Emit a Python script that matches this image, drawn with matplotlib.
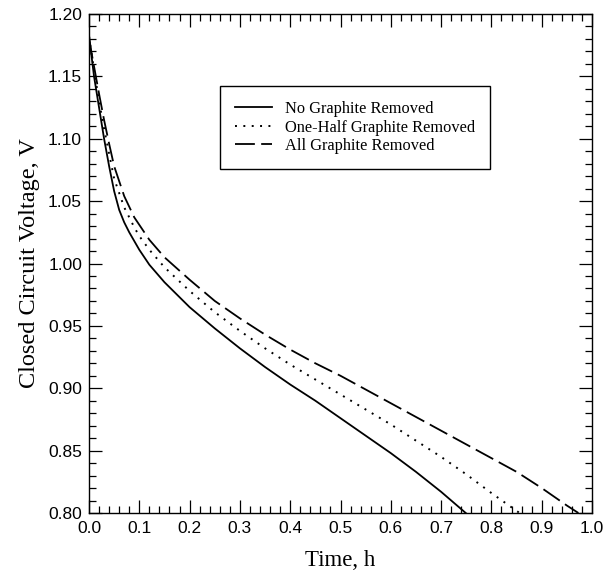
import matplotlib.pyplot as plt
from matplotlib.ticker import MultipleLocator

t_none = [0.0, 0.01, 0.02, 0.03, 0.04, 0.05, 0.06, 0.07, 0.08, 0.09, 0.10, 0.12, 0.15,
          0.20, 0.25, 0.30, 0.35, 0.40, 0.45, 0.50, 0.55, 0.60, 0.65, 0.70, 0.749]
v_none = [1.183, 1.150, 1.125, 1.100, 1.078, 1.058, 1.043, 1.033, 1.025, 1.018, 1.011, 0.999, 0.985,
          0.965, 0.948, 0.932, 0.917, 0.903, 0.890, 0.876, 0.862, 0.848, 0.833, 0.817, 0.800]

t_half = [0.0, 0.01, 0.02, 0.03, 0.04, 0.05, 0.07, 0.09, 0.10, 0.12, 0.15, 0.20, 0.25, 0.30,
          0.35, 0.40, 0.45, 0.50, 0.55, 0.60, 0.65, 0.70, 0.75, 0.80, 0.856]
v_half = [1.182, 1.155, 1.130, 1.108, 1.088, 1.068, 1.045, 1.029, 1.022, 1.011, 0.997, 0.978, 0.961, 0.946,
          0.932, 0.919, 0.907, 0.895, 0.883, 0.871, 0.858, 0.845, 0.831, 0.816, 0.800]

t_all = [0.0, 0.01, 0.02, 0.03, 0.04, 0.05, 0.07, 0.09, 0.10, 0.12, 0.15, 0.20, 0.25, 0.30,
         0.35, 0.40, 0.45, 0.50, 0.55, 0.60, 0.65, 0.70, 0.75, 0.80, 0.85, 0.90, 0.95, 0.973]
v_all = [1.180, 1.158, 1.136, 1.115, 1.096, 1.078, 1.054, 1.037, 1.031, 1.019, 1.005, 0.987, 0.970, 0.956,
         0.943, 0.931, 0.920, 0.910, 0.899, 0.888, 0.877, 0.866, 0.855, 0.844, 0.833, 0.820, 0.806, 0.800]

labels = ['No Graphite Removed', 'One-Half Graphite Removed', 'All Graphite Removed']

serif = ['Liberation Serif', 'DejaVu Serif']
sans = ['Liberation Sans', 'DejaVu Sans']

fig = plt.figure(figsize=(6.12, 5.78), dpi=100)
ax = fig.add_axes([89 / 612, 1 - 513 / 578, 503 / 612, 499 / 578])

ax.plot(t_none, v_none, color='black', lw=1.3, linestyle='-', label=labels[0])
ax.plot(t_half, v_half, color='black', lw=1.4, linestyle=(0, (1, 3.3)), label=labels[1])
ax.plot(t_all, v_all, color='black', lw=1.3, linestyle=(0, (11, 3.5)), label=labels[2])

ax.set_xlim(0.0, 1.0)
ax.set_ylim(0.80, 1.20)
ax.xaxis.set_major_locator(MultipleLocator(0.1))
ax.xaxis.set_minor_locator(MultipleLocator(0.02))
ax.yaxis.set_major_locator(MultipleLocator(0.05))
ax.yaxis.set_minor_locator(MultipleLocator(0.01))
ax.xaxis.set_major_formatter(plt.FormatStrFormatter('%.1f'))
ax.yaxis.set_major_formatter(plt.FormatStrFormatter('%.2f'))

ax.tick_params(which='both', direction='in', top=True, right=True, width=0.9, colors='black')
ax.tick_params(which='major', length=9.5)
ax.tick_params(which='minor', length=5)
ax.tick_params(axis='x', which='major', pad=6)
ax.tick_params(axis='y', which='major', pad=5)
for lab in ax.get_xticklabels() + ax.get_yticklabels():
    lab.set_family(sans)
    lab.set_fontsize(12.5)

for sp in ax.spines.values():
    sp.set_linewidth(1.0)

ax.set_xlabel('Time, h', family=serif, fontsize=16.5, labelpad=10)
ax.set_ylabel('Closed Circuit Voltage, V', family=serif, fontsize=17.5, labelpad=6)

leg = ax.legend(loc='upper left', bbox_to_anchor=(0.26, 0.855), borderaxespad=0,
                prop={'family': serif, 'size': 11.8}, frameon=True, fancybox=False,
                edgecolor='black', framealpha=1, handlelength=2.3, handletextpad=0.8,
                labelspacing=0.15, borderpad=0.9)
leg.get_frame().set_linewidth(1.0)

fig.savefig('out.png', dpi=100)
